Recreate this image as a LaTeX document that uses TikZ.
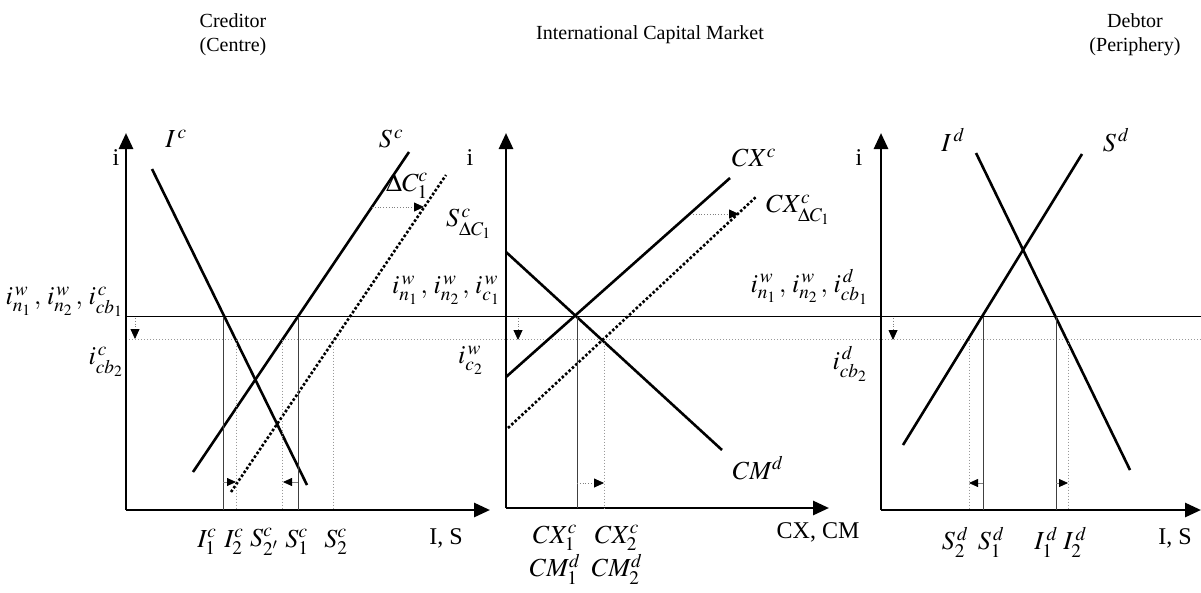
\documentclass[tikz,border=0pt]{standalone}
\usepackage{mathptmx}
\usepackage{fontspec}
\setmainfont{Liberation Serif}
\usetikzlibrary{arrows.meta}
\begin{document}
\begin{tikzpicture}[x=1pt,y=-1pt,
  axis/.style={line width=2.8pt,-{Triangle[length=16pt,width=14pt]}},
  curve/.style={line width=2.6pt},
  shifted/.style={line width=2.6pt,dotted},
  thinv/.style={line width=1pt,black!75},
  dotv/.style={line width=1pt,gray!80,dotted},
  hline/.style={line width=1.3pt},
  hdot/.style={line width=1pt,gray!80,dotted},
  small/.style={line width=0.8pt,gray,-{Triangle[length=9pt,width=8pt,black]}},
  smalldot/.style={line width=0.8pt,gray,dotted,-{Triangle[length=10pt,width=9pt,black]}},
  lbl/.style={font=\fontsize{26}{30}\selectfont,inner sep=0pt},
  slbl/.style={font=\fontsize{26}{30}\selectfont,inner sep=0pt},
  ttl/.style={font=\fontsize{20}{24}\selectfont,inner sep=0pt,align=center},
  axl/.style={font=\fontsize{24}{28}\selectfont,inner sep=0pt}]
\useasboundingbox (0,0) rectangle (1201,592);

% ---------------- titles
\node[ttl] (t1) at (233,35) {Creditor\\(Centre)};
\node[ttl] (t2) at (650,35) {International Capital Market};
\node[ttl] (t3) at (1135,35) {Debtor\\(Periphery)};

% ---------------- common horizontal lines
\coordinate (hL) at (126,316.5);
\coordinate (hR) at (1201,316.5);
\coordinate (dL) at (126,339.5);
\coordinate (dR) at (1201,339.5);
\draw[hline] (hL) -- (hR);
\draw[hdot] (dL) -- (dR);

% ================= LEFT PANEL
\coordinate (Lo) at (126,510);
\coordinate (Ly) at (126,133);
\coordinate (Lx) at (490,510);
\draw[axis] (Lo) -- (Ly);
\draw[axis] (Lo) -- (Lx);
\node[axl] (Li) at (116,158) {i};
\node[axl] (LIS) at (446,538) {I, S};

\coordinate (Ic1) at (152,169);
\coordinate (Ic2) at (307,485);
\draw[curve] (Ic1) -- (Ic2);
\node[lbl] (LIc) at (176,139) {$I^{\,c}$};

\coordinate (Sc1) at (193,472);
\coordinate (Sc2) at (409,152);
\draw[curve] (Sc1) -- (Sc2);
\node[lbl] (LSc) at (391,139) {$S^{\,c}$};

\coordinate (Sd1) at (231,492);
\coordinate (Sd2) at (446,175);
\draw[shifted] (Sd1) -- (Sd2);
\node[lbl] (LdC) at (407,186) {$\Delta C_1^c$};
\node[lbl,anchor=west] (LSdC) at (446,224) {$S^{\,c}_{\Delta C_1}$};

\coordinate (dc1) at (372,207);
\coordinate (dc2) at (424,207);
\draw[smalldot] (dc1) -- (dc2);

\coordinate (vI1t) at (223,316.5); \coordinate (vI1b) at (223,510);
\coordinate (vS1t) at (298,316.5); \coordinate (vS1b) at (298,510);
\coordinate (vI2t) at (236,339.5); \coordinate (vI2b) at (236,510);
\coordinate (vS2pt) at (282,339.5); \coordinate (vS2pb) at (282,510);
\coordinate (vS2t) at (333,339.5); \coordinate (vS2b) at (333,510);
\draw[thinv] (vI1t) -- (vI1b);
\draw[thinv] (vS1t) -- (vS1b);
\draw[dotv] (vI2t) -- (vI2b);
\draw[dotv] (vS2pt) -- (vS2pb);
\draw[dotv] (vS2t) -- (vS2b);

\coordinate (aI1) at (223,482); \coordinate (aI2) at (236,482);
\coordinate (aS1) at (298,482); \coordinate (aS2) at (283,482);
\draw[small] (aI1) -- (aI2);
\draw[small] (aS1) -- (aS2);

\node[lbl] (LI1) at (207,542) {$I_1^c$};
\node[lbl] (LI2) at (234,542) {$I_2^c$};
\node[lbl] (LS2p) at (264,542) {$S_{2'}^c$};
\node[lbl] (LS1) at (297,542) {$S_1^c$};
\node[lbl] (LS2) at (336,542) {$S_2^c$};

\node[slbl,anchor=east] (Lr1) at (123,302) {$i^{\,w}_{n_1}\,,\,i^{\,w}_{n_2}\,,\,i^{\,c}_{cb_1}$};
\node[slbl,anchor=east] (Lr2) at (123,362) {$i^{\,c}_{cb_2}$};
\coordinate (La1) at (135,318); \coordinate (La2) at (135,339);
\draw[smalldot] (La1) -- (La2);

% ================= MIDDLE PANEL
\coordinate (Mo) at (506,508);
\coordinate (My) at (506,133);
\coordinate (Mx) at (829,508);
\draw[axis] (Mo) -- (My);
\draw[axis] (Mo) -- (Mx);
\node[axl] (Mi) at (470,158) {i};
\node[axl] (MCX) at (818,532) {CX, CM};

\coordinate (CX1) at (506,377);
\coordinate (CX2) at (730,178);
\draw[curve] (CX1) -- (CX2);
\node[lbl] (MCXc) at (754,158) {$CX^c$};

\coordinate (CM1) at (506,252);
\coordinate (CM2) at (722,450);
\draw[curve] (CM1) -- (CM2);
\node[lbl] (MCMd) at (758,468) {$CM^d$};

\coordinate (CXd1) at (508,428);
\coordinate (CXd2) at (757,196);
\draw[shifted] (CXd1) -- (CXd2);
\node[lbl,anchor=west] (MCXd) at (766,210) {$CX^c_{\Delta C_1}$};

\coordinate (mc1) at (693,214);
\coordinate (mc2) at (739,214);
\draw[smalldot] (mc1) -- (mc2);

\coordinate (vC1t) at (577,316.5); \coordinate (vC1b) at (577,508);
\coordinate (vC2t) at (604,339.5); \coordinate (vC2b) at (604,508);
\draw[thinv] (vC1t) -- (vC1b);
\draw[dotv] (vC2t) -- (vC2b);
\coordinate (aC1) at (577,483); \coordinate (aC2) at (604,483);
\draw[smalldot] (aC1) -- (aC2);

\node[lbl] (MX1) at (555,538) {$CX_1^c$};
\node[lbl] (MX2) at (617,538) {$CX_2^c$};
\node[lbl] (MM1) at (555,569) {$CM_1^d$};
\node[lbl] (MM2) at (617,569) {$CM_2^d$};

\node[slbl,anchor=east] (Mr1) at (500,290) {$i^{\,w}_{n_1}\,,\,i^{\,w}_{n_2}\,,\,i^{\,w}_{c_1}$};
\node[slbl,anchor=east] (Mr2) at (483,360) {$i^{\,w}_{c_2}$};
\coordinate (Ma1) at (518,318); \coordinate (Ma2) at (518,340);
\draw[smalldot] (Ma1) -- (Ma2);

% ================= RIGHT PANEL
\coordinate (Ro) at (881,510);
\coordinate (Ry) at (881,133);
\coordinate (Rx) at (1201,510);
\draw[axis] (Ro) -- (Ry);
\draw[axis] (Ro) -- (Rx);
\node[axl] (Ri) at (859,158) {i};
\node[axl] (RIS) at (1175,538) {I, S};

\coordinate (Id1) at (976,153);
\coordinate (Id2) at (1130,470);
\draw[curve] (Id1) -- (Id2);
\node[lbl] (RId) at (953,140) {$I^{\,d}$};

\coordinate (Sdd1) at (903,445);
\coordinate (Sdd2) at (1082,154);
\draw[curve] (Sdd1) -- (Sdd2);
\node[lbl] (RSd) at (1116,140) {$S^{\,d}$};

\coordinate (vRS1t) at (983,316.5); \coordinate (vRS1b) at (983,510);
\coordinate (vRI1t) at (1056,316.5); \coordinate (vRI1b) at (1056,510);
\coordinate (vRS2t) at (969,339.5); \coordinate (vRS2b) at (969,510);
\coordinate (vRI2t) at (1068,339.5); \coordinate (vRI2b) at (1068,510);
\draw[thinv] (vRS1t) -- (vRS1b);
\draw[thinv] (vRI1t) -- (vRI1b);
\draw[dotv] (vRS2t) -- (vRS2b);
\draw[dotv] (vRI2t) -- (vRI2b);
\coordinate (aR1) at (983,483); \coordinate (aR2) at (969,483);
\coordinate (aR3) at (1056,483); \coordinate (aR4) at (1068,483);
\draw[small] (aR1) -- (aR2);
\draw[small] (aR3) -- (aR4);

\node[lbl] (RS2) at (955,542) {$S_2^{\,d}$};
\node[lbl] (RS1) at (991,542) {$S_1^{\,d}$};
\node[lbl] (RI1) at (1046,542) {$I_1^{\,d}$};
\node[lbl] (RI2) at (1075,542) {$I_2^{\,d}$};

\node[slbl,anchor=east] (Rr1) at (868,287) {$i^{\,w}_{n_1}\,,\,i^{\,w}_{n_2}\,,\,i^{\,d}_{cb_1}$};
\node[slbl,anchor=east] (Rr2) at (867,364) {$i^{\,d}_{cb_2}$};
\coordinate (Ra1) at (893,318); \coordinate (Ra2) at (893,340);
\draw[smalldot] (Ra1) -- (Ra2);
\end{tikzpicture}
\end{document}
